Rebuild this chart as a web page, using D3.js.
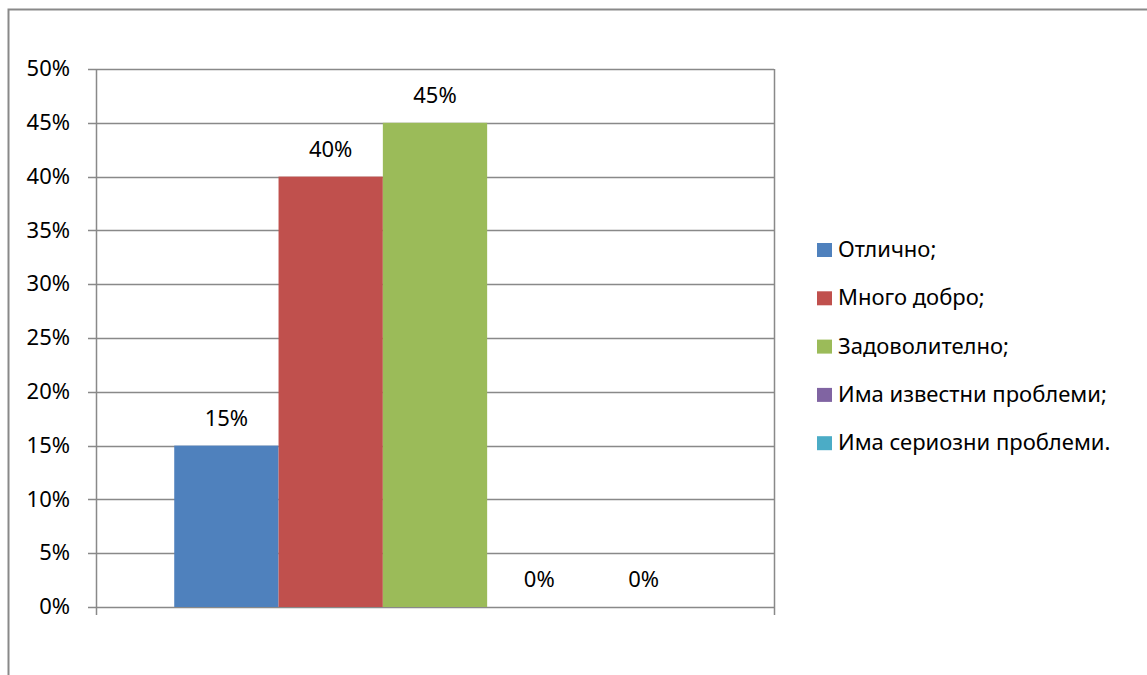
<!DOCTYPE html>
<html>
<head>
<meta charset="utf-8">
<script src="https://cdn.jsdelivr.net/npm/d3@7"></script>
<style>
  body { margin: 0; background: #fff; }
  svg text { font-family: "Noto Sans", "DejaVu Sans", sans-serif; fill: #000; }
</style>
</head>
<body>
<div id="chart"></div>
<script>
// data
const seriesNames = ['Отлично;', 'Много добро;', 'Задоволително;', 'Има известни проблеми;', 'Има сериозни проблеми.'];
const seriesValues = [0.15, 0.40, 0.45, 0, 0];
const seriesColors = ['#4F81BD', '#C0504D', '#9BBB59', '#8064A2', '#4BACC6'];
const yTicks = [0, 0.05, 0.10, 0.15, 0.20, 0.25, 0.30, 0.35, 0.40, 0.45, 0.50];

const w = 1147;
const h = 675;
const plot = { left: 96, right: 774, top: 69, bottom: 607 };
const fontSize = '22px';

const svg = d3.select('#chart')
              .append('svg')
              .attr('width', w)
              .attr('height', h);

// chart frame (only top and left edges show in the picture)
svg.append('path')
   .attr('d', 'M8.5,' + h + 'V9.5H' + w)
   .attr('fill', 'none')
   .attr('stroke', '#898989')
   .attr('stroke-width', 2);

const yScale = d3.scaleLinear()
                 .domain([0, 0.5])
                 .range([plot.bottom, plot.top]);

// one category, gap width 150% like Excel
const barW = (plot.right - plot.left) / (seriesNames.length + 1.5);
const xInner = d3.scaleBand()
                 .domain(d3.range(seriesNames.length))
                 .range([plot.left + barW * 0.75, plot.right - barW * 0.75])
                 .padding(0);

// gridlines
svg.append('g')
   .selectAll('line')
   .data(yTicks)
   .enter()
   .append('line')
   .attr('x1', plot.left - 8)
   .attr('x2', plot.right)
   .attr('y1', d => Math.round(yScale(d)) + 0.5)
   .attr('y2', d => Math.round(yScale(d)) + 0.5)
   .attr('stroke', '#898989')
   .attr('stroke-width', 1.5);

// bars
svg.append('g')
   .selectAll('rect')
   .data(seriesValues)
   .enter()
   .append('rect')
   .attr('x', (d, i) => xInner(i))
   .attr('width', xInner.bandwidth())
   .attr('y', d => yScale(d))
   .attr('height', d => yScale(0) - yScale(d))
   .attr('fill', (d, i) => seriesColors[i]);

// axes
const yAxis = d3.axisLeft(yScale)
                .tickValues(yTicks)
                .tickFormat(d3.format('.0%'))
                .tickSize(0)
                .tickPadding(26);
const yG = svg.append('g')
              .attr('transform', 'translate(' + plot.left + ',0)')
              .call(yAxis);
yG.select('.domain').remove();
yG.selectAll('text').style('font-size', fontSize).attr('dy', '0.3em');

svg.append('line')
   .attr('x1', plot.left + 0.5).attr('x2', plot.left + 0.5)
   .attr('y1', plot.top).attr('y2', plot.bottom + 8)
   .attr('stroke', '#898989').attr('stroke-width', 1.5);
svg.append('line')
   .attr('x1', plot.right + 0.5).attr('x2', plot.right + 0.5)
   .attr('y1', plot.top).attr('y2', plot.bottom + 8)
   .attr('stroke', '#898989').attr('stroke-width', 1.5);

// value labels
svg.append('g')
   .selectAll('text')
   .data(seriesValues)
   .enter()
   .append('text')
   .attr('x', (d, i) => xInner(i) + xInner.bandwidth() / 2)
   .attr('y', d => yScale(d) - 20)
   .attr('text-anchor', 'middle')
   .style('font-size', fontSize)
   .text(d => d3.format('.0%')(d));

// legend
const legend = svg.selectAll('.legend')
                  .data(seriesNames)
                  .enter()
                  .append('g')
                  .attr('class', 'legend')
                  .attr('transform', (d, i) => 'translate(817,' + (257 + i * 48.3) + ')');
legend.append('rect')
      .attr('x', 0)
      .attr('y', -14)
      .attr('width', 15)
      .attr('height', 14)
      .attr('fill', (d, i) => seriesColors[i]);
legend.append('text')
      .attr('x', 21)
      .attr('y', 0)
      .style('font-size', fontSize)
      .text(d => d);
</script>
</body>
</html>
